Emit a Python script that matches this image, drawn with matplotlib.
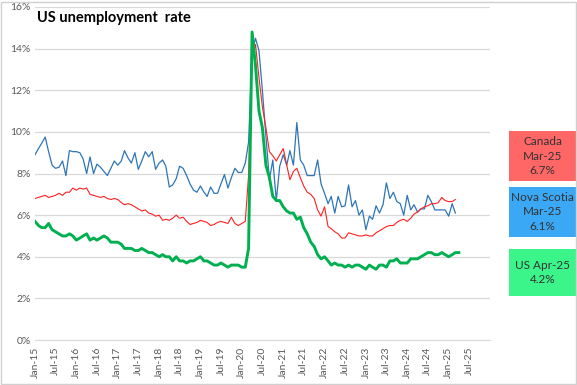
import numpy as np
import pandas as pd
import matplotlib
matplotlib.use('Agg')
import matplotlib.pyplot as plt
import matplotlib.dates as mdates
from matplotlib.patches import Rectangle

# monthly unemployment rates (%), starting Jan-15
us = [5.7, 5.5, 5.4, 5.4, 5.6, 5.3, 5.2, 5.1, 5.0, 5.0, 5.1, 5.0,
      4.8, 4.9, 5.0, 5.1, 4.8, 4.9, 4.8, 4.9, 5.0, 4.9, 4.7, 4.7,
      4.7, 4.6, 4.4, 4.4, 4.4, 4.3, 4.3, 4.4, 4.3, 4.2, 4.2, 4.1,
      4.0, 4.1, 4.0, 4.0, 3.8, 4.0, 3.8, 3.8, 3.7, 3.8, 3.8, 3.9,
      4.0, 3.8, 3.8, 3.7, 3.6, 3.6, 3.7, 3.6, 3.5, 3.6, 3.6, 3.6,
      3.5, 3.5, 4.4, 14.8, 13.2, 11.0, 10.2, 8.4, 7.8, 6.9, 6.7, 6.7,
      6.4, 6.2, 6.1, 6.1, 5.8, 5.9, 5.4, 5.1, 4.7, 4.5, 4.1, 3.9,
      4.0, 3.8, 3.6, 3.7, 3.6, 3.6, 3.5, 3.6, 3.5, 3.6, 3.6, 3.5,
      3.4, 3.6, 3.5, 3.4, 3.6, 3.6, 3.5, 3.8, 3.8, 3.9, 3.7, 3.7,
      3.7, 3.9, 3.9, 3.9, 4.0, 4.1, 4.2, 4.2, 4.1, 4.1, 4.2, 4.1,
      4.0, 4.1, 4.2, 4.2]

canada = [6.8, 6.85, 6.9, 6.95, 6.85, 6.9, 6.95, 7.05, 6.95, 7.1, 7.1, 7.3,
          7.2, 7.3, 7.25, 7.3, 7.0, 6.95, 6.9, 6.85, 6.9, 6.8, 6.75, 6.8,
          6.75, 6.6, 6.5, 6.55, 6.5, 6.4, 6.3, 6.2, 6.25, 6.1, 6.05, 5.95,
          6.0, 5.75, 5.8, 5.75, 5.85, 6.0, 5.85, 5.9, 5.7, 5.55, 5.6, 5.65,
          5.75, 5.7, 5.65, 5.5, 5.55, 5.65, 5.7, 5.65, 5.6, 5.9, 5.6, 5.5,
          5.6, 5.7, 7.9, 13.6, 14.2, 12.6, 11.2, 10.2, 9.05, 8.85, 8.6, 8.9,
          9.2, 8.4, 7.7, 8.1, 8.25, 7.8, 7.4, 7.1, 7.0, 6.8, 6.25, 5.95,
          6.4, 5.45, 5.35, 5.2, 5.1, 4.9, 4.9, 5.15, 5.1, 5.05, 5.0, 5.0,
          5.05, 5.0, 5.0, 5.15, 5.25, 5.35, 5.45, 5.5, 5.5, 5.65, 5.75, 5.8,
          5.7, 5.85, 6.05, 6.15, 6.3, 6.4, 6.45, 6.55, 6.55, 6.6, 6.85, 6.7,
          6.65, 6.65, 6.75]

nova_scotia = [8.9, 9.2, 9.45, 9.75, 9.05, 8.4, 8.25, 8.3, 8.6, 7.9, 9.1, 9.05,
               9.05, 9.0, 8.7, 8.0, 8.8, 8.0, 8.45, 8.3, 8.1, 7.9, 8.25, 8.6,
               8.4, 8.6, 9.1, 8.75, 8.5, 9.0, 8.2, 8.6, 9.05, 8.8, 9.05, 8.2,
               8.5, 8.65, 8.35, 7.35, 7.45, 7.75, 8.35, 8.25, 7.9, 7.5, 7.2, 7.1,
               7.4, 7.1, 6.9, 7.35, 7.05, 7.05, 7.5, 7.95, 7.3, 7.8, 8.25, 8.05,
               8.05, 8.5, 9.5, 13.8, 14.5, 13.9, 12.0, 9.8, 7.7, 8.65, 6.7, 8.35,
               8.9, 8.4, 9.1, 8.4, 10.45, 8.65, 8.4, 7.9, 7.9, 7.9, 8.65, 7.5,
               7.05, 6.55, 6.9, 6.1, 6.9, 6.4, 6.45, 7.45, 6.4, 6.7, 6.0, 6.25,
               5.3, 5.95, 5.8, 6.45, 6.1, 6.5, 7.55, 6.8, 7.1, 6.65, 6.55, 6.0,
               6.95, 6.25, 6.5, 6.15, 6.3, 6.3, 6.95, 6.65, 6.25, 6.25, 6.25, 6.25,
               5.95, 6.55, 6.1]

y_ticks = [0, 2, 4, 6, 8, 10, 12, 14, 16]
tick_labels = ['Jan-15', 'Jul-15', 'Jan-16', 'Jul-16', 'Jan-17', 'Jul-17',
               'Jan-18', 'Jul-18', 'Jan-19', 'Jul-19', 'Jan-20', 'Jul-20',
               'Jan-21', 'Jul-21', 'Jan-22', 'Jul-22', 'Jan-23', 'Jul-23',
               'Jan-24', 'Jul-24', 'Jan-25', 'Jul-25']

box_texts = ['Canada\nMar-25\n6.7%', 'Nova Scotia\nMar-25\n6.1%', 'US Apr-25\n4.2%']
box_colors = ['#FF6666', '#3AA8F5', '#3CF58A']

plt.rcParams['font.family'] = ['Liberation Sans Narrow', 'Lato', 'DejaVu Sans']

W, H = 577, 385
fig = plt.figure(figsize=(W / 100, H / 100), dpi=100)

# plot area in pixels: left 35, right 490, top 7, bottom 340
ax = fig.add_axes([35 / W, 1 - 340 / H, 455 / W, 333 / H])

dates_us = pd.date_range('2015-01-01', periods=len(us), freq='MS')
dates_ca = pd.date_range('2015-01-01', periods=len(canada), freq='MS')

ax.plot(dates_ca, nova_scotia, color='#2E75B6', lw=0.9)
ax.plot(dates_ca, canada, color='#FF2020', lw=0.8)
ax.plot(dates_us, us, color='#00B050', lw=2.1)

ax.set_ylim(0, 16)
ax.set_yticks(y_ticks)
ax.set_yticklabels([f'{v}%' for v in y_ticks])
ax.set_xlim(pd.Timestamp('2015-01-01'), pd.Timestamp('2026-01-01'))
tick_pos = pd.date_range('2015-01-01', periods=len(tick_labels), freq='6MS')
ax.set_xticks(tick_pos)
ax.set_xticklabels(tick_labels, rotation=90)

ax.grid(axis='y', color='#D9D9D9', lw=0.9)
ax.set_axisbelow(True)
for s in ['top', 'right', 'left']:
    ax.spines[s].set_visible(False)
ax.spines['bottom'].set_color('#D9D9D9')
ax.tick_params(axis='both', length=0, labelsize=7.5, labelcolor='#595959')
ax.tick_params(axis='x', pad=5)
ax.tick_params(axis='y', pad=3)

fig.text(37 / W, 1 - 18 / H, 'US unemployment  rate', fontsize=10.5,
         fontweight='bold', color='black', va='center', ha='left')

# side labels
box_tops = [131, 187, 249]
box_bottoms = [181, 237, 296]
for txt, col, top, bot in zip(box_texts, box_colors, box_tops, box_bottoms):
    fig.patches.append(Rectangle((509 / W, 1 - bot / H), 67 / W, (bot - top) / H,
                                 transform=fig.transFigure, facecolor=col,
                                 edgecolor='none'))
    fig.text(542.5 / W, 1 - (top + bot) / 2 / H, txt, ha='center', va='center',
             fontsize=8.5, color='#333333', linespacing=1.35)

# chart border
fig.patches.append(Rectangle((0.5 / W, 1.5 / H), (W - 2) / W, (H - 3) / H,
                             transform=fig.transFigure, facecolor='none',
                             edgecolor='#D0D0D0', lw=1))

fig.savefig('out.png', dpi=100)
